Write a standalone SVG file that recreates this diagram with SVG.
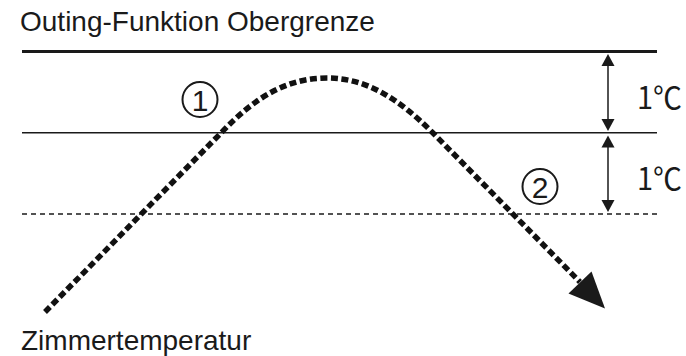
<svg xmlns="http://www.w3.org/2000/svg" width="686" height="356" viewBox="0 0 686 356">
<style>
.lbl{font-family:"Liberation Sans",Arial,sans-serif;font-size:28px;fill:#1a1a1a}
.num{font-family:"Liberation Sans",Arial,sans-serif;font-size:30px;fill:#1a1a1a}
.deg{font-family:"Noto Sans CJK JP","DejaVu Sans",sans-serif;font-size:31px;fill:#1a1a1a}
.ring{fill:none;stroke:#1a1a1a;stroke-width:2}
.dim{stroke:#1a1a1a;stroke-width:1.5;fill:none}
.head{fill:#1a1a1a}
</style>
<rect width="686" height="356" fill="#fff"/>
<g id="title"><text class="lbl" x="20" y="31">Outing-Funktion Obergrenze</text></g>
<g id="levels">
<line x1="22" y1="51.5" x2="657" y2="51.5" stroke="#1a1a1a" stroke-width="2.8"/>
<line x1="22" y1="132.8" x2="657" y2="132.8" stroke="#1a1a1a" stroke-width="1.5"/>
<line x1="22" y1="214" x2="657" y2="214" stroke="#1a1a1a" stroke-width="1.5" stroke-dasharray="5 4"/>
</g>
<g id="dimensions">
<line class="dim" x1="608" y1="64" x2="608" y2="121"/>
<polygon class="head" points="608,54 601.5,66 614.5,66"/>
<polygon class="head" points="608,131 601.5,119 614.5,119"/>
<line class="dim" x1="608" y1="146" x2="608" y2="202"/>
<polygon class="head" points="608,135.5 601.5,147.5 614.5,147.5"/>
<polygon class="head" points="608,212 601.5,200 614.5,200"/>
<text class="deg" x="637" y="109" textLength="45" lengthAdjust="spacingAndGlyphs">1℃</text>
<text class="deg" x="637" y="190" textLength="45" lengthAdjust="spacingAndGlyphs">1℃</text>
</g>
<g id="connectors">
<path d="M45 312 L221 133 C256 96 288 78 327 78 C366 78 398 98 433 133 L580 282" fill="none" stroke="#111" stroke-width="5.5" stroke-dasharray="7 3.5"/>
<polygon class="head" points="605,308.5 568.5,293.5 591.5,271.5"/>
</g>
<g id="marker1">
<circle class="ring" cx="200" cy="99.5" r="17.5"/>
<text class="num" x="200" y="110.5" text-anchor="middle">1</text>
</g>
<g id="marker2">
<circle class="ring" cx="540" cy="186.5" r="17.5"/>
<text class="num" x="540" y="197.5" text-anchor="middle">2</text>
</g>
<g id="axis-label"><text class="lbl" x="21" y="350">Zimmertemperatur</text></g>
</svg>
